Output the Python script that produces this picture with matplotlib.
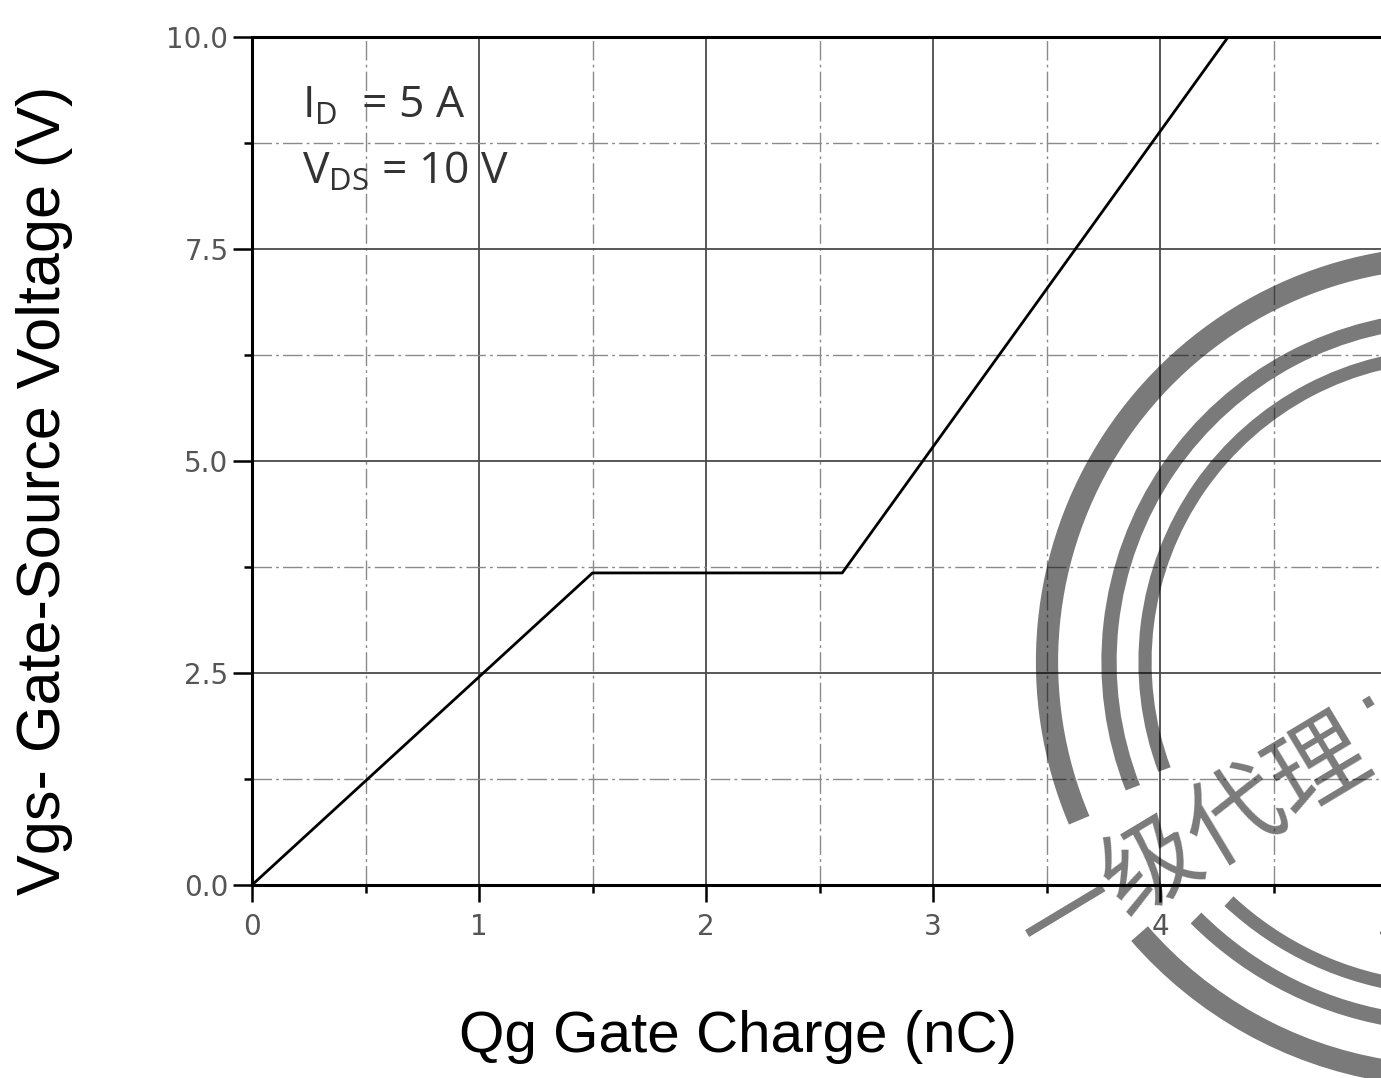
import matplotlib.pyplot as plt
from matplotlib.patches import Arc

plt.rcParams['mathtext.fontset'] = 'custom'
plt.rcParams['mathtext.rm'] = 'Open Sans'

# gate charge curve, Vgs vs Qg
qg = [0.0, 1.5, 2.6, 4.3]
vgs = [0.0, 3.68, 3.68, 10.0]

x_major = [0, 1, 2, 3, 4, 5]
x_minor = [0.5, 1.5, 2.5, 3.5, 4.5]
y_major = [0.0, 2.5, 5.0, 7.5, 10.0]
y_minor = [1.25, 3.75, 6.25, 8.75]
y_labels = ['0.0', '2.5', '5.0', '7.5', '10.0']

W, H = 1381, 1078
fig = plt.figure(figsize=(W / 100, H / 100), dpi=100)
ax = fig.add_axes([252 / W, 1 - 885 / H, (1387 - 252) / W, (885 - 37) / H])

ax.plot(qg, vgs, color='black', lw=2.0, zorder=3)
ax.set_xlim(0, 5)
ax.set_ylim(0, 10)

ax.set_xticks(x_major)
ax.set_xticks(x_minor, minor=True)
ax.set_yticks(y_major, y_labels)
ax.set_yticks(y_minor, minor=True)

ax.grid(which='major', color='#4a4a4a', lw=1.3, zorder=1)
ax.grid(which='minor', color='#8a8a8a', lw=1.0, ls=(0, (14, 3, 2, 3)), zorder=1)

for s in ax.spines.values():
    s.set_linewidth(2.2)
    s.set_color('black')

ax.tick_params(axis='both', which='both', direction='out', width=1.8, colors='black',
               labelcolor='#555555', labelsize=20)
ax.tick_params(axis='x', which='major', length=12, pad=8)
ax.tick_params(axis='y', which='major', length=14, pad=3)
ax.tick_params(axis='both', which='minor', length=6)

fig.text(738 / W, 1 - 1037 / H, 'Qg Gate Charge (nC)', ha='center', va='center',
         fontsize=42, family='Liberation Sans')
fig.text(45 / W, 1 - 490 / H, 'Vgs- Gate-Source Voltage (V)', ha='center', va='center',
         rotation=90, fontsize=44, family='Liberation Sans')

fig.text(302 / W, 1 - 118 / H, r'$\mathrm{I_D}$  = 5 A', fontsize=32, color='#333333',
         family='Open Sans', va='baseline')
fig.text(302 / W, 1 - 184 / H, r'$\mathrm{V_{DS}}$ = 10 V', fontsize=32, color='#333333',
         family='Open Sans', va='baseline')

# stamp overlay, pixel coordinates with y pointing up
ov = fig.add_axes([0, 0, 1, 1], zorder=5)
ov.set_xlim(0, W)
ov.set_ylim(0, H)
ov.axis('off')
ov.patch.set_alpha(0)

cx, cy = 1452, H - 662
ink = dict(color='black', alpha=0.52)
# upper-left rings
for r, lw, end in [(405, 16, 203), (343, 11, 201.5), (307, 9.5, 200.5)]:
    ov.add_patch(Arc((cx, cy), 2 * r, 2 * r, theta1=90, theta2=end, lw=lw, **ink))
# lower rings
for r, lw, start in [(414, 16, 221), (362, 11, 225), (327, 9.5, 227)]:
    ov.add_patch(Arc((cx, cy), 2 * r, 2 * r, theta1=start, theta2=300, lw=lw, **ink))

ov.text(1195, H - 842, '一级代理', rotation=31, rotation_mode='anchor',
        ha='center', va='center', fontsize=70, alpha=0.52,
        family=['Noto Sans CJK SC', 'DejaVu Sans'], weight='light')
ov.text(1370, H - 703, '·', rotation=31, ha='center', va='center', fontsize=60,
        alpha=0.52, family='DejaVu Sans')

fig.savefig('out.png', dpi=100)
